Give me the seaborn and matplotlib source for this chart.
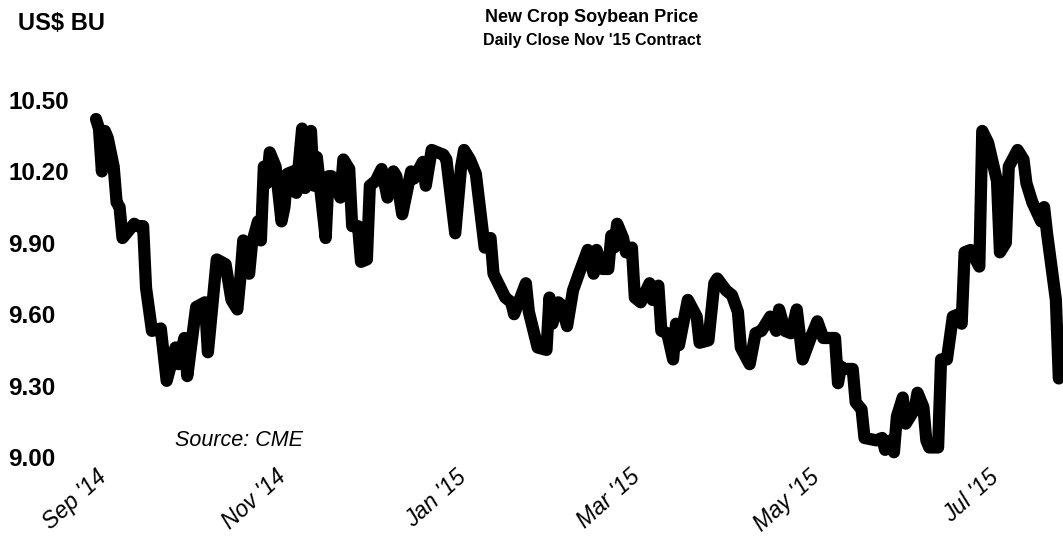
import matplotlib
matplotlib.use("Agg")
import matplotlib.pyplot as plt
import matplotlib.dates as mdates
import seaborn as sns
import pandas as pd

# daily close, Nov '15 soybean contract
dates = [
    "2014-09-01", "2014-09-02", "2014-09-03", "2014-09-04", "2014-09-05", "2014-09-07",
    "2014-09-08", "2014-09-09", "2014-09-10", "2014-09-14", "2014-09-15", "2014-09-17",
    "2014-09-18", "2014-09-20", "2014-09-23", "2014-09-25", "2014-09-28", "2014-09-29",
    "2014-10-01", "2014-10-02", "2014-10-05", "2014-10-08", "2014-10-09", "2014-10-12",
    "2014-10-15", "2014-10-17", "2014-10-19", "2014-10-20", "2014-10-21", "2014-10-23",
    "2014-10-24", "2014-10-26", "2014-10-27", "2014-10-28", "2014-10-29", "2014-10-30",
    "2014-11-01", "2014-11-03", "2014-11-04", "2014-11-05", "2014-11-07", "2014-11-08",
    "2014-11-10", "2014-11-11", "2014-11-13", "2014-11-14", "2014-11-15", "2014-11-18",
    "2014-11-19", "2014-11-20", "2014-11-23", "2014-11-24", "2014-11-26", "2014-11-27",
    "2014-11-29", "2014-11-30", "2014-12-02", "2014-12-03", "2014-12-05", "2014-12-07",
    "2014-12-09", "2014-12-11", "2014-12-12", "2014-12-14", "2014-12-17", "2014-12-18",
    "2014-12-21", "2014-12-22", "2014-12-24", "2014-12-28", "2014-12-29", "2015-01-01",
    "2015-01-03", "2015-01-04", "2015-01-06", "2015-01-08", "2015-01-11", "2015-01-13",
    "2015-01-14", "2015-01-18", "2015-01-20", "2015-01-21", "2015-01-25", "2015-01-26",
    "2015-01-29", "2015-02-01", "2015-02-02", "2015-02-03", "2015-02-05", "2015-02-06",
    "2015-02-08", "2015-02-10", "2015-02-12", "2015-02-15", "2015-02-17", "2015-02-18",
    "2015-02-20", "2015-02-22", "2015-02-23", "2015-02-24", "2015-02-25", "2015-02-27",
    "2015-02-28", "2015-03-02", "2015-03-03", "2015-03-05", "2015-03-08", "2015-03-09",
    "2015-03-11", "2015-03-12", "2015-03-14", "2015-03-16", "2015-03-17", "2015-03-18",
    "2015-03-21", "2015-03-24", "2015-03-25", "2015-03-28", "2015-03-30", "2015-03-31",
    "2015-04-03", "2015-04-05", "2015-04-07", "2015-04-08", "2015-04-11", "2015-04-13",
    "2015-04-15", "2015-04-18", "2015-04-20", "2015-04-21", "2015-04-23", "2015-04-25",
    "2015-04-27", "2015-04-29", "2015-05-02", "2015-05-04", "2015-05-06", "2015-05-10",
    "2015-05-11", "2015-05-12", "2015-05-13", "2015-05-16", "2015-05-17", "2015-05-19",
    "2015-05-20", "2015-05-24", "2015-05-26", "2015-05-27", "2015-05-29", "2015-05-30",
    "2015-05-31", "2015-06-02", "2015-06-03", "2015-06-06", "2015-06-07", "2015-06-09",
    "2015-06-10", "2015-06-11", "2015-06-14", "2015-06-15", "2015-06-17", "2015-06-19",
    "2015-06-21", "2015-06-22", "2015-06-23", "2015-06-25", "2015-06-28", "2015-06-29",
    "2015-07-01", "2015-07-04", "2015-07-05", "2015-07-07", "2015-07-08", "2015-07-11",
    "2015-07-13", "2015-07-14", "2015-07-16", "2015-07-19", "2015-07-20", "2015-07-21",
    "2015-07-24", "2015-07-25",
]
prices = [
    10.42, 10.38, 10.20, 10.37, 10.34, 10.22,
    10.07, 10.05, 9.92, 9.98, 9.97, 9.97,
    9.71, 9.53, 9.54, 9.32, 9.46, 9.39,
    9.50, 9.34, 9.63, 9.65, 9.44, 9.83,
    9.81, 9.66, 9.62, 9.75, 9.91, 9.77,
    9.90, 9.99, 9.91, 10.22, 10.15, 10.28,
    10.22, 9.99, 10.05, 10.19, 10.20, 10.11,
    10.38, 10.13, 10.37, 10.14, 10.26, 9.92,
    10.18, 10.18, 10.09, 10.25, 10.21, 9.97,
    9.97, 9.82, 9.83, 10.14, 10.16, 10.21,
    10.09, 10.20, 10.18, 10.02, 10.20, 10.17,
    10.24, 10.14, 10.29, 10.27, 10.25, 9.94,
    10.22, 10.29, 10.25, 10.19, 9.88, 9.92,
    9.77, 9.67, 9.65, 9.60, 9.73, 9.61,
    9.46, 9.45, 9.67, 9.56, 9.65, 9.64,
    9.55, 9.70, 9.77, 9.87, 9.77, 9.87,
    9.79, 9.79, 9.93, 9.88, 9.98, 9.92,
    9.86, 9.88, 9.67, 9.65, 9.73, 9.66,
    9.72, 9.53, 9.52, 9.41, 9.56, 9.47,
    9.66, 9.59, 9.48, 9.49, 9.73, 9.75,
    9.70, 9.68, 9.61, 9.46, 9.39, 9.52,
    9.53, 9.59, 9.53, 9.62, 9.53, 9.52,
    9.62, 9.41, 9.51, 9.57, 9.50, 9.50,
    9.31, 9.38, 9.37, 9.37, 9.23, 9.20,
    9.08, 9.07, 9.08, 9.03, 9.07, 9.02,
    9.17, 9.25, 9.14, 9.20, 9.27, 9.21,
    9.07, 9.04, 9.04, 9.41, 9.41, 9.59,
    9.60, 9.56, 9.86, 9.87, 9.80, 10.37,
    10.32, 10.16, 9.86, 9.90, 10.22, 10.29,
    10.25, 10.15, 10.07, 9.99, 10.05, 9.94,
    9.66, 9.33,
]

tick_dates = ["2014-09-01", "2014-11-01", "2015-01-01", "2015-03-01", "2015-05-01", "2015-07-01"]
tick_labels = ["Sep '14", "Nov '14", "Jan '15", "Mar '15", "May '15", "Jul '15"]
y_ticks = [9.00, 9.30, 9.60, 9.90, 10.20, 10.50]

sns.set_style("white")
plt.rcParams["font.family"] = ["Liberation Sans", "DejaVu Sans"]
plt.rcParams["text.color"] = "black"
plt.rcParams["xtick.color"] = "black"
plt.rcParams["ytick.color"] = "black"

df = pd.DataFrame({"date": pd.to_datetime(dates), "price": prices})

W, H = 1063, 541
fig = plt.figure(figsize=(W / 100, H / 100), dpi=100)
ax = fig.add_axes([85 / W, 84 / H, 975 / W, 357 / H])

sns.lineplot(data=df, x="date", y="price", ax=ax, color="black", linewidth=8.8,
             estimator=None, sort=False, solid_joinstyle="round",
             solid_capstyle="round", clip_on=False)

start = mdates.date2num(pd.Timestamp("2014-09-01"))
ax.set_xlim(start - 3.74, start + 327.4)
ax.set_ylim(9.0, 10.5)

sns.despine(ax=ax, left=True, bottom=True)
ax.tick_params(length=0)
ax.set_xlabel("")
ax.set_ylabel("")

ax.set_yticks(y_ticks)
ax.set_yticklabels([f"{v:.2f}" for v in y_ticks], fontsize=17.5, fontweight="bold")
for lab in ax.get_yticklabels():
    lab.set_horizontalalignment("left")
ax.yaxis.set_tick_params(pad=55)

ax.set_xticks(pd.to_datetime(tick_dates))
ax.set_xticklabels(tick_labels, fontsize=16.5, fontstyle="italic", rotation=42,
                   ha="right", rotation_mode="anchor")
ax.xaxis.set_tick_params(pad=6)

fig.text(18 / W, 1 - 23 / H, "US$ BU", fontsize=17, fontweight="bold", va="center")
fig.text(592 / W, 1 - 18 / H, "New Crop Soybean Price", fontsize=13, fontweight="bold",
         ha="center", va="center")
fig.text(592 / W, 1 - 40 / H, "Daily Close Nov '15 Contract", fontsize=11.5,
         fontweight="bold", ha="center", va="center")
fig.text(175 / W, 1 - 440 / H, "Source: CME", fontsize=15.5, fontstyle="italic", va="center")

fig.savefig("out.png", dpi=100)
